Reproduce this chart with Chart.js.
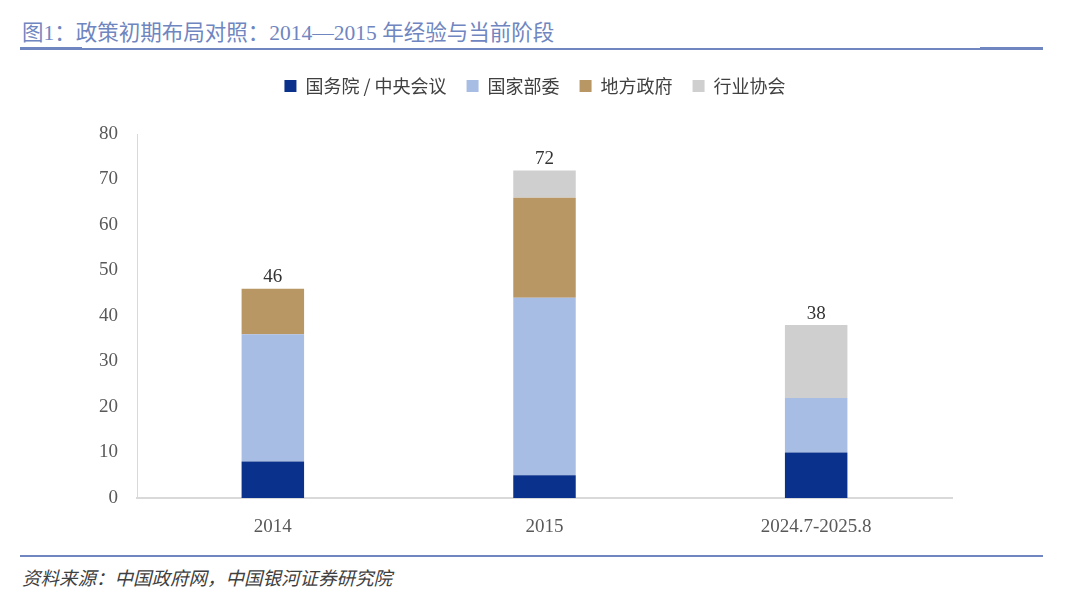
<!DOCTYPE html>
<html>
<head>
<meta charset="utf-8">
<script src="https://cdn.jsdelivr.net/npm/chart.js@4/dist/chart.umd.min.js"></script>
<style>
    html, body { margin: 0; padding: 0; background: #fff; }
    body { width: 1080px; height: 593px; position: relative; overflow: hidden; }
    .title {
        position: absolute; left: 22px; top: 15px;
        font: 21.5px "Liberation Serif", "Noto Sans CJK SC", serif;
        color: #6f86c0;
        white-space: nowrap;
    }
    .rule { position: absolute; background: #6f86c0; }
    .source {
        position: absolute; left: 22px; top: 564px;
        font: italic 18.5px "Liberation Serif", "Noto Sans CJK SC", serif;
        color: #404040;
        white-space: nowrap;
    }
    .chart-box { position: absolute; left: 0; top: 57px; width: 1080px; height: 499px; }
</style>
</head>
<body>
<div class="title">图1：政策初期布局对照：2014—2015 年经验与当前阶段</div>
<div class="rule" style="left:20px; top:48px; width:1023px; height:2px;"></div>
<div class="rule" style="left:20px; top:47px; width:62px; height:3px;"></div>
<div class="rule" style="left:980px; top:47px; width:63px; height:3px;"></div>
<div class="chart-box"><canvas id="policyChart"></canvas></div>
<div class="rule" style="left:20px; top:555px; width:1023px; height:2px;"></div>
<div class="source">资料来源：中国政府网，中国银河证券研究院</div>

<script>
// Chart data
const categories = ['2014', '2015', '2024.7-2025.8'];
const seriesNames = ['国务院 / 中央会议', '国家部委', '地方政府', '行业协会'];
const stateCouncil = [8, 5, 10];
const ministries = [28, 39, 12];
const localGov = [10, 22, 0];
const associations = [0, 6, 16];
const yTicks = [0, 10, 20, 30, 40, 50, 60, 70, 80];

const seriesColors = ['#0a318c', '#a8bde4', '#b99765', '#d0cfd0'];
const seriesValues = [stateCouncil, ministries, localGov, associations];

(function() {
    'use strict';

    const numFont = '"Liberation Serif", "Noto Sans CJK SC", serif';

    // Draws the stack totals above each bar
    const totalsPlugin = {
        id: 'stackTotals',
        afterDatasetsDraw: function(chart) {
            const ctx = chart.ctx;
            const xScale = chart.scales.x;
            const yScale = chart.scales.y;
            ctx.save();
            ctx.font = '19px ' + numFont;
            ctx.fillStyle = '#333333';
            ctx.textAlign = 'center';
            ctx.textBaseline = 'bottom';
            categories.forEach(function(cat, i) {
                let total = 0;
                seriesValues.forEach(function(arr) { total += arr[i]; });
                const x = xScale.getPixelForValue(i);
                const y = yScale.getPixelForValue(total);
                ctx.fillText(String(total), x, y - 2);
            });
            ctx.restore();
        }
    };

    // Extra space below the legend, and nudge it right to sit where the original does
    const legendTweak = {
        id: 'legendTweak',
        beforeInit: function(chart) {
            const origFit = chart.legend.fit;
            chart.legend.fit = function() {
                origFit.bind(chart.legend)();
                this.height += 29;
            };
        },
        afterLayout: function(chart) {
            chart.legend.left += 59;
            chart.legend.right += 59;
        }
    };

    const datasets = seriesNames.map(function(name, k) {
        return {
            label: name,
            data: seriesValues[k],
            backgroundColor: seriesColors[k],
            borderWidth: 0,
            categoryPercentage: 1,
            barPercentage: 0.23
        };
    });

    new Chart(document.getElementById('policyChart'), {
        type: 'bar',
        data: { labels: categories, datasets: datasets },
        options: {
            responsive: true,
            maintainAspectRatio: false,
            animation: false,
            layout: { padding: { left: 0, right: 128, top: 0, bottom: 0 } },
            plugins: {
                legend: {
                    position: 'top',
                    labels: {
                        boxWidth: 12,
                        boxHeight: 12,
                        padding: 20,
                        color: '#404040',
                        font: { size: 18, family: '"Noto Sans CJK SC", sans-serif' }
                    }
                },
                tooltip: { enabled: false }
            },
            scales: {
                x: {
                    stacked: true,
                    grid: { display: false },
                    border: { color: '#d9d9d9', width: 2 },
                    ticks: {
                        color: '#595959',
                        padding: 10,
                        font: { size: 19, family: numFont }
                    },
                    afterFit: function(scale) { scale.height = 58; }
                },
                y: {
                    stacked: true,
                    min: 0,
                    max: 80,
                    afterBuildTicks: function(scale) {
                        scale.ticks = yTicks.map(function(v) { return { value: v }; });
                    },
                    grid: { display: false },
                    border: { color: '#d9d9d9', width: 1 },
                    ticks: {
                        color: '#595959',
                        padding: 11,
                        font: { size: 19, family: numFont }
                    },
                    afterFit: function(scale) { scale.width = 137; }
                }
            }
        },
        plugins: [totalsPlugin, legendTweak]
    });
})();
</script>
</body>
</html>
